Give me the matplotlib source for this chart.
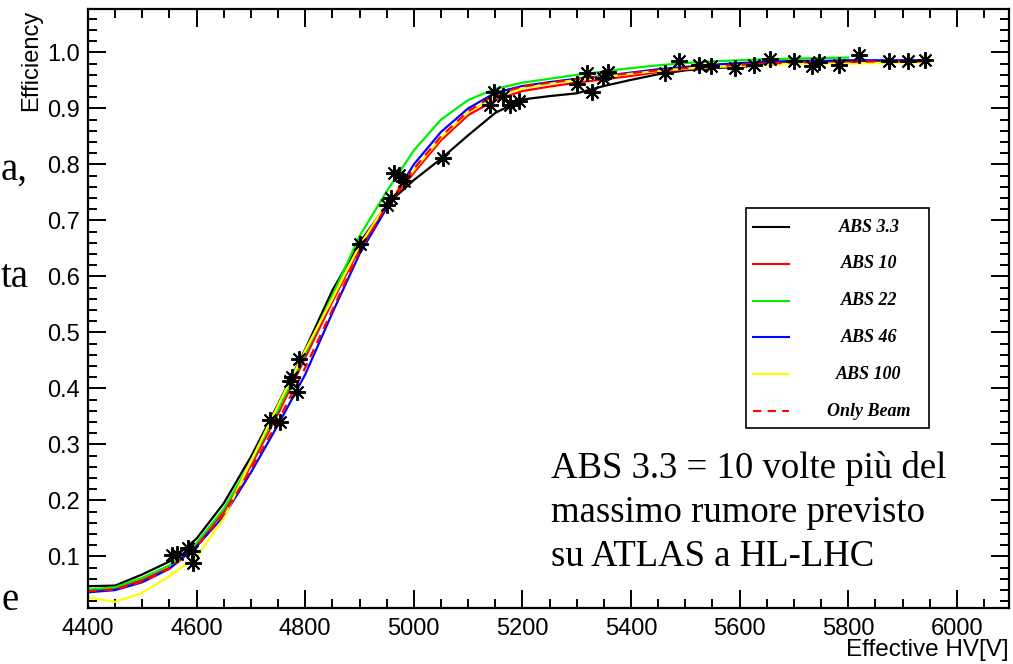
import matplotlib.pyplot as plt
from matplotlib.patches import Rectangle
from matplotlib.lines import Line2D

plt.rcParams['font.family'] = ['Liberation Sans', 'DejaVu Sans']

hv = [4400, 4450, 4500, 4550, 4600, 4650, 4700, 4750, 4800, 4850,
      4900, 4950, 5000, 5050, 5100, 5150, 5200, 5250, 5300, 5350,
      5400, 5450, 5500, 5550, 5600, 5650, 5700, 5750, 5800, 5850,
      5900, 5950]

abs_3p3 = [0.047, 0.048, 0.068, 0.091, 0.132, 0.195, 0.278, 0.372, 0.470, 0.575,
           0.660, 0.728, 0.772, 0.810, 0.852, 0.892, 0.916, 0.922, 0.927, 0.940,
           0.951, 0.961, 0.968, 0.972, 0.974, 0.978, 0.982, 0.984, 0.985]
abs_10 = [0.039, 0.043, 0.058, 0.080, 0.121, 0.180, 0.262, 0.355, 0.455, 0.555,
          0.650, 0.725, 0.785, 0.843, 0.888, 0.915, 0.931, 0.939, 0.946, 0.952,
          0.958, 0.965, 0.970, 0.973, 0.976, 0.978, 0.981, 0.982, 0.983, 0.984,
          0.985, 0.985]
abs_22 = [0.041, 0.045, 0.062, 0.084, 0.124, 0.185, 0.268, 0.362, 0.462, 0.566,
          0.672, 0.752, 0.825, 0.880, 0.915, 0.935, 0.946, 0.953, 0.960, 0.966,
          0.972, 0.977, 0.981, 0.984, 0.986, 0.988, 0.989, 0.990, 0.991]
abs_46 = [0.036, 0.040, 0.054, 0.078, 0.118, 0.172, 0.250, 0.335, 0.425, 0.535,
          0.640, 0.722, 0.800, 0.858, 0.900, 0.928, 0.940, 0.947, 0.953, 0.958,
          0.964, 0.970, 0.974, 0.978, 0.981, 0.983, 0.985, 0.985, 0.986, 0.986,
          0.986, 0.986]
abs_100 = [0.027, 0.019, 0.035, 0.065, 0.100, 0.168, 0.270, 0.370, 0.468, 0.560,
           0.655, 0.730, 0.790, 0.848, 0.893, 0.922, 0.936, 0.944, 0.951, 0.956,
           0.962, 0.967, 0.971, 0.974, 0.976, 0.978, 0.980, 0.980, 0.980, 0.981,
           0.982, 0.982]
only_beam = [0.038, 0.041, 0.055, 0.078, 0.118, 0.175, 0.255, 0.342, 0.437, 0.540,
             0.645, 0.726, 0.792, 0.850, 0.895, 0.925, 0.939, 0.946, 0.952, 0.958,
             0.963, 0.968, 0.972, 0.975, 0.978, 0.980, 0.982, 0.983, 0.983, 0.984,
             0.984, 0.984]

# measured points (black asterisks)
pts_hv = [4554, 4563, 4585, 4591, 4594,
          4735, 4754, 4772, 4775, 4785, 4788,
          4901, 4950, 4958, 4963, 4972, 4981, 5054,
          5141, 5148, 5164, 5178, 5193,
          5301, 5318, 5329, 5349, 5358,
          5462, 5489, 5526, 5547, 5591, 5626, 5655, 5701,
          5734, 5746, 5783, 5819, 5875, 5910, 5941]
pts_eff = [0.102, 0.104, 0.115, 0.109, 0.089,
           0.344, 0.341, 0.414, 0.420, 0.394, 0.452,
           0.658, 0.727, 0.740, 0.784, 0.781, 0.771, 0.812,
           0.906, 0.930, 0.922, 0.907, 0.913,
           0.944, 0.963, 0.930, 0.955, 0.965,
           0.963, 0.984, 0.977, 0.975, 0.972, 0.978, 0.989, 0.985,
           0.975, 0.983, 0.978, 0.996, 0.985, 0.985, 0.987]

labels = ['ABS 3.3', 'ABS 10', 'ABS 22', 'ABS 46', 'ABS 100', 'Only Beam']
series = [abs_3p3, abs_10, abs_22, abs_46, abs_100, only_beam]
colors = ['black', '#ff0000', '#00ee00', '#0000ff', '#ffff00', '#ff0000']
styles = ['-', '-', '-', '-', '-', '--']

fig = plt.figure(figsize=(10.13, 6.64), dpi=100)
ax = fig.add_axes([88 / 1013, 56 / 664, 921 / 1013, 598.7 / 664])

for vals, c, ls in zip(series, colors, styles):
    ax.plot(hv[:len(vals)], vals, color=c, ls=ls, lw=1.6,
            dashes=(4, 3) if ls == '--' else (None, None))

ax.plot(pts_hv, pts_eff, ls='none', marker=(8, 2, 0), ms=12, mew=1.4,
        color='black', zorder=5)

ax.set_xlim(4400, 6096)
ax.set_ylim(0.008, 1.077)
ax.set_xticks(range(4400, 6001, 200))
ax.set_xticks(range(4400, 6096, 50), minor=True)
ax.set_yticks([0.1 * i for i in range(1, 11)])
ax.set_yticks([0.02 * i for i in range(1, 54)], minor=True)
ax.set_yticklabels(['%.1f' % (0.1 * i) for i in range(1, 11)])
ax.tick_params(which='both', direction='in', top=True, right=True,
               labelsize=17, width=1.4)
ax.tick_params(which='major', length=13, pad=6)
ax.tick_params(which='minor', length=6.5)
ax.tick_params(axis='x', pad=7)
for s in ax.spines.values():
    s.set_linewidth(1.6)

ax.set_xlabel('Effective HV[V]', fontsize=17.5, loc='right')
ax.xaxis.set_label_coords(1.0, -0.052)
ax.set_ylabel('Efficiency', fontsize=17, loc='top')
ax.yaxis.set_label_coords(-0.05, 1.0)

# legend box in ROOT style
bx0, by0 = (746 - 88) / 921, (608 - 428) / 598.7
bw, bh = (929 - 746) / 921, (428 - 208) / 598.7
ax.add_patch(Rectangle((bx0, by0), bw, bh, transform=ax.transAxes,
                       fill=True, fc='white', ec='black', lw=1.2, zorder=6))
for i, (lab, c, ls) in enumerate(zip(labels, colors, styles)):
    yy = (608 - (227 + 36.8 * i)) / 598.7
    ax.add_line(Line2D([(753 - 88) / 921, (789 - 88) / 921], [yy, yy],
                       transform=ax.transAxes, color=c, ls=ls, lw=1.5,
                       dashes=(4, 3) if ls == '--' else (None, None), zorder=7))
    ax.text((869 - 88) / 921, yy, lab, transform=ax.transAxes, ha='center',
            va='center', fontsize=13, fontweight='bold', fontstyle='italic',
            family='Liberation Serif', zorder=7)

note = ['ABS 3.3 = 10 volte più del', 'massimo rumore previsto',
        'su ATLAS a HL-LHC']
for i, line in enumerate(note):
    fig.text(551 / 1013, 1 - (478 + 44 * i) / 664, line, fontsize=26.5,
             family='Liberation Serif', va='baseline', ha='left')

# fragments of the slide text at the left edge
fig.text(0.001, 1 - 180 / 664, 'a,', fontsize=28, family='Liberation Serif',
         va='baseline')
fig.text(0.001, 1 - 287 / 664, 'ta', fontsize=28, family='Liberation Serif',
         va='baseline')
fig.text(0.001, 1 - 610 / 664, 'e', fontsize=28, family='Liberation Serif',
         va='baseline')

fig.savefig('out.png', dpi=100)
